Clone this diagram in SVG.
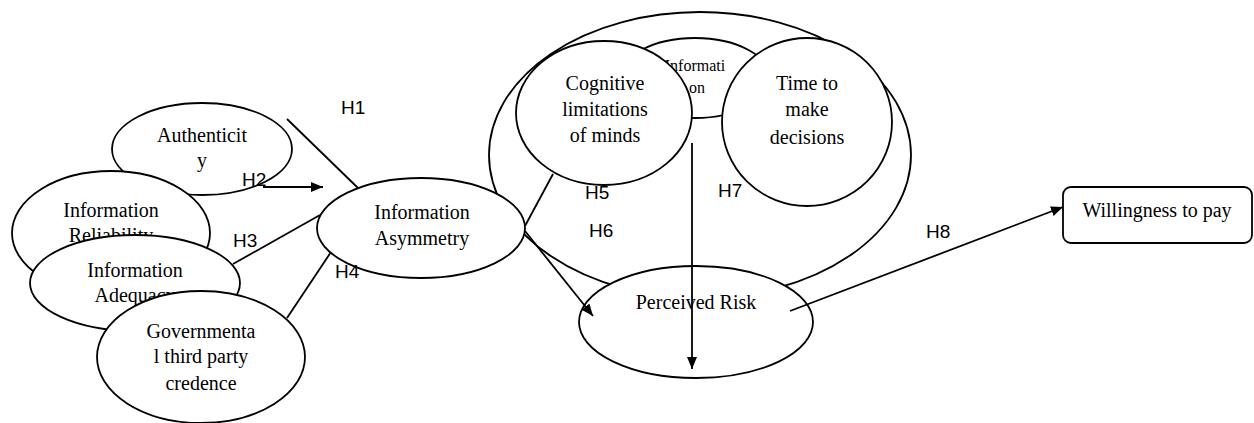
<svg xmlns="http://www.w3.org/2000/svg" width="1254" height="423" viewBox="0 0 1254 423">
<style>
.n{fill:#fff;stroke:#000;stroke-width:1.8}
.t{font-family:"Liberation Serif","Times New Roman",serif;font-size:20px;fill:#000;text-anchor:middle}
.s{font-family:"Liberation Serif","Times New Roman",serif;font-size:16px;fill:#000;text-anchor:middle}
.h{font-family:"Liberation Sans",Arial,sans-serif;font-size:19px;fill:#000}
.c{fill:none;stroke:#000;stroke-width:1.8}
</style>
<defs>
<marker id="ah" markerUnits="userSpaceOnUse" markerWidth="13" markerHeight="11" refX="12" refY="5" orient="auto">
<path d="M0,0 L12,5 L0,10 Z" fill="#000"/>
</marker>
</defs>
<rect width="1254" height="423" fill="#fff"/>
<g id="authenticity">
<ellipse class="n" cx="202" cy="149" rx="90" ry="46"/>
<text class="t" x="202" y="142">Authenticit</text>
<text class="t" x="202" y="167">y</text>
</g>
<g id="reliability">
<ellipse class="n" cx="111" cy="233" rx="99" ry="62"/>
<text class="t" x="111" y="217">Information</text>
<text class="t" x="111" y="242">Reliability</text>
</g>
<g id="adequacy">
<ellipse class="n" cx="135" cy="283" rx="105" ry="48"/>
<text class="t" x="135" y="277">Information</text>
<text class="t" x="135" y="302">Adequacy</text>
</g>
<g id="governmental">
<ellipse class="n" cx="201" cy="357" rx="104" ry="66"/>
<text class="t" x="201" y="338">Governmenta</text>
<text class="t" x="201" y="363">l third party</text>
<text class="t" x="201" y="390">credence</text>
</g>
<g id="group-ellipse">
<ellipse class="n" cx="700" cy="155" rx="211" ry="143"/>
</g>
<g id="information">
<ellipse class="n" cx="695" cy="78" rx="75" ry="40"/>
<text class="s" x="695" y="71">Informati</text>
<text class="s" x="697" y="93">on</text>
</g>
<g id="cognitive">
<ellipse class="n" cx="604" cy="113" rx="88" ry="72"/>
<text class="t" x="605" y="90">Cognitive</text>
<text class="t" x="605" y="116">limitations</text>
<text class="t" x="605" y="142">of minds</text>
</g>
<g id="time">
<ellipse class="n" cx="807" cy="122" rx="85" ry="84"/>
<text class="t" x="807" y="90">Time to</text>
<text class="t" x="807" y="116">make</text>
<text class="t" x="807" y="144">decisions</text>
</g>
<g id="asymmetry">
<ellipse class="n" cx="421" cy="228" rx="104" ry="50"/>
<text class="t" x="422" y="219">Information</text>
<text class="t" x="422" y="245">Asymmetry</text>
</g>
<g id="perceived-risk">
<ellipse class="n" cx="696" cy="322" rx="117" ry="56"/>
<text class="t" x="696" y="309">Perceived Risk</text>
</g>
<g id="willingness">
<rect class="n" x="1063" y="187" width="189" height="56" rx="8"/>
<text class="t" x="1157" y="217">Willingness to pay</text>
</g>
<g id="connectors">
<line class="c" x1="287" y1="119" x2="358" y2="188"/>
<line class="c" x1="263" y1="187" x2="323" y2="187" marker-end="url(#ah)"/>
<line class="c" x1="233" y1="264" x2="320" y2="215"/>
<line class="c" x1="287" y1="318" x2="331" y2="252"/>
<line class="c" x1="525" y1="226" x2="553" y2="174"/>
<line class="c" x1="525" y1="231" x2="593" y2="316" marker-end="url(#ah)"/>
<line class="c" x1="692" y1="143" x2="692" y2="369" marker-end="url(#ah)"/>
<line class="c" x1="790" y1="311" x2="1063" y2="207" marker-end="url(#ah)"/>
</g>
<g id="labels">
<text class="h" x="341" y="114">H1</text>
<text class="h" x="242" y="186">H2</text>
<text class="h" x="233" y="247">H3</text>
<text class="h" x="335" y="278">H4</text>
<text class="h" x="585" y="199">H5</text>
<text class="h" x="589" y="237">H6</text>
<text class="h" x="718" y="197">H7</text>
<text class="h" x="926" y="238">H8</text>
</g>
</svg>
